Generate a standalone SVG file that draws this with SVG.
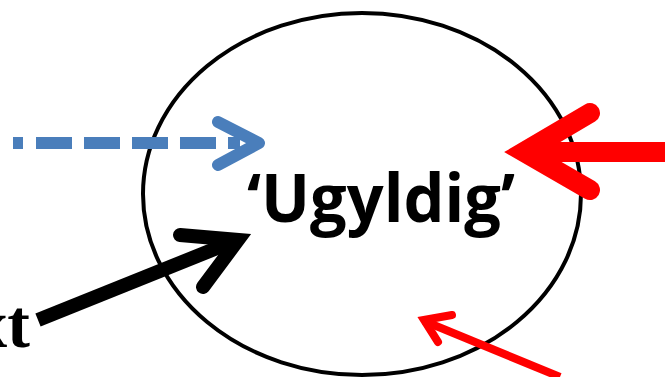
<svg xmlns="http://www.w3.org/2000/svg" width="665" height="377" viewBox="0 0 665 377">
<style>
.lbl{font-family:"Open Sans","Liberation Sans",sans-serif;font-weight:bold;fill:#000}
.side{font-family:"Liberation Serif","DejaVu Serif",serif;font-weight:bold;fill:#000}
.arr{fill:none;stroke-linecap:round}
.dash{fill:none;stroke-linecap:butt}
</style>
<rect width="665" height="377" fill="#fff"/>
<g id="node-ugyldig">
<ellipse cx="362" cy="194" rx="219" ry="181" fill="none" stroke="#000" stroke-width="4"/>
<text class="lbl" x="247" y="222" font-size="66" textLength="268" lengthAdjust="spacingAndGlyphs">‘Ugyldig’</text>
</g>
<g id="node-left">
<text class="side" x="30" y="347" font-size="68" text-anchor="end">xt</text>
</g>
<g id="connectors">
<path class="dash" d="M13 143 H240" stroke="#4a7ebb" stroke-width="12" stroke-dasharray="10 13 36 12 36 12 36 12 36 12 36"/>
<polyline class="arr" points="218,122 259,143 218,165" stroke="#4a7ebb" stroke-width="12" stroke-linejoin="round"/>
<path d="M665 152 H540" stroke="#f00" stroke-width="20" fill="none"/>
<polyline class="arr" points="590,113 524,152 590,190" stroke="#f00" stroke-width="20" stroke-linejoin="miter" stroke-miterlimit="10"/>
<path d="M38 320 L232 242" stroke="#000" stroke-width="14" fill="none"/>
<polyline class="arr" points="180,235 238,240 203,287" stroke="#000" stroke-width="14" stroke-linejoin="miter" stroke-miterlimit="10"/>
<path d="M560 377 L424 321" stroke="#f00" stroke-width="8" fill="none"/>
<polyline class="arr" points="452,315 424,320 438,342" stroke="#f00" stroke-width="8" stroke-linejoin="miter" stroke-miterlimit="10"/>
</g>
</svg>
